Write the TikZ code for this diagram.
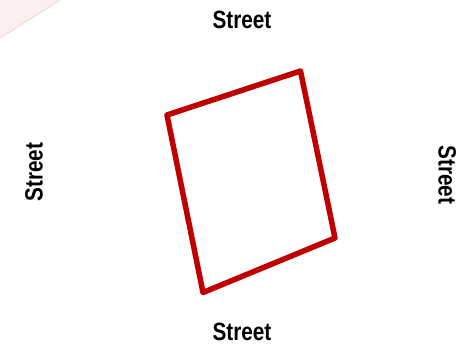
\documentclass[tikz,border=0pt]{standalone}
\usepackage{fontspec}
\setmainfont{Liberation Sans}
\definecolor{lotred}{RGB}{192,0,0}
\definecolor{pinkfill}{RGB}{252,240,239}
\definecolor{pinkedge}{RGB}{243,220,220}
\begin{document}
\begin{tikzpicture}[x=1pt,y=-1pt,
  streetlabel/.style={font=\fontsize{25}{25}\selectfont\bfseries, inner sep=0pt, anchor=base},
  lot/.style={draw=lotred, line width=5.5pt, line join=round}]
\useasboundingbox (0,0) rectangle (456,345);
\fill[pinkfill] (0,0) -- (60,0) -- (0,38) -- cycle;
\draw[pinkedge, line width=1.2pt] (60,0) -- (0,38);
\coordinate (a) at (167,115);
\coordinate (b) at (300.5,71);
\coordinate (c) at (335,238);
\coordinate (d) at (203,292.5);
\draw[lot] (a) -- (b) -- (c) -- (d) -- cycle;
\node[streetlabel] (top) at (242,28.3) {\scalebox{0.83}[1]{Street}};
\node[streetlabel] (bottom) at (242,340.5) {\scalebox{0.83}[1]{Street}};
\node[streetlabel, rotate=90] (left) at (42.5,172) {\scalebox{0.83}[1]{Street}};
\node[streetlabel, rotate=-90] (right) at (438.5,175) {\scalebox{0.83}[1]{Street}};
\end{tikzpicture}
\end{document}
